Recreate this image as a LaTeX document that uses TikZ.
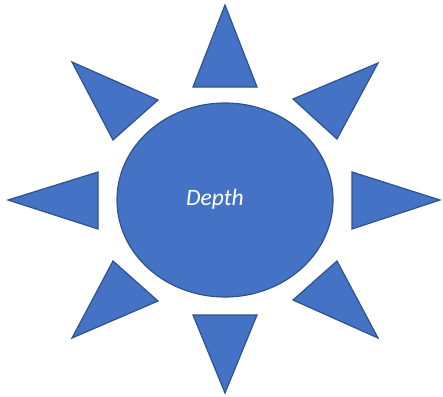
\documentclass[tikz,border=0pt]{standalone}
\usepackage{fontspec}
\setmainfont{Carlito}
\usetikzlibrary{shapes.geometric}
\definecolor{sunfill}{HTML}{4472C4}
\definecolor{sunline}{HTML}{2F528F}
\begin{document}
\begin{tikzpicture}[x=1pt,y=-1pt,
  ray/.style={fill=sunfill,draw=sunline,line width=1.2pt,line join=miter},
  core/.style={ellipse,fill=sunfill,draw=sunline,line width=1.2pt,minimum width=216pt,minimum height=194pt,inner sep=0pt},
  lbl/.style={font=\fontsize{23.5}{27}\selectfont\itshape,text=white,inner sep=0pt}]
\useasboundingbox (0,0) rectangle (443,396);
\node[core] (c) at (225,200) {};
\node[lbl,anchor=base] (t) at (215,205) {Depth};
\draw[ray] (72,62) -- (158,100) -- (113,140) -- cycle;
\draw[ray] (225,5) -- (257,87) -- (193,87) -- cycle;
\draw[ray] (378,63) -- (337,139) -- (293,99) -- cycle;
\draw[ray] (8,200) -- (98,172) -- (98,229) -- cycle;
\draw[ray] (440,200) -- (352,172) -- (352,229) -- cycle;
\draw[ray] (72,338) -- (113,261) -- (158,301) -- cycle;
\draw[ray] (225,393) -- (193,315) -- (257,315) -- cycle;
\draw[ray] (378,338) -- (293,300) -- (337,261) -- cycle;
\end{tikzpicture}
\end{document}
